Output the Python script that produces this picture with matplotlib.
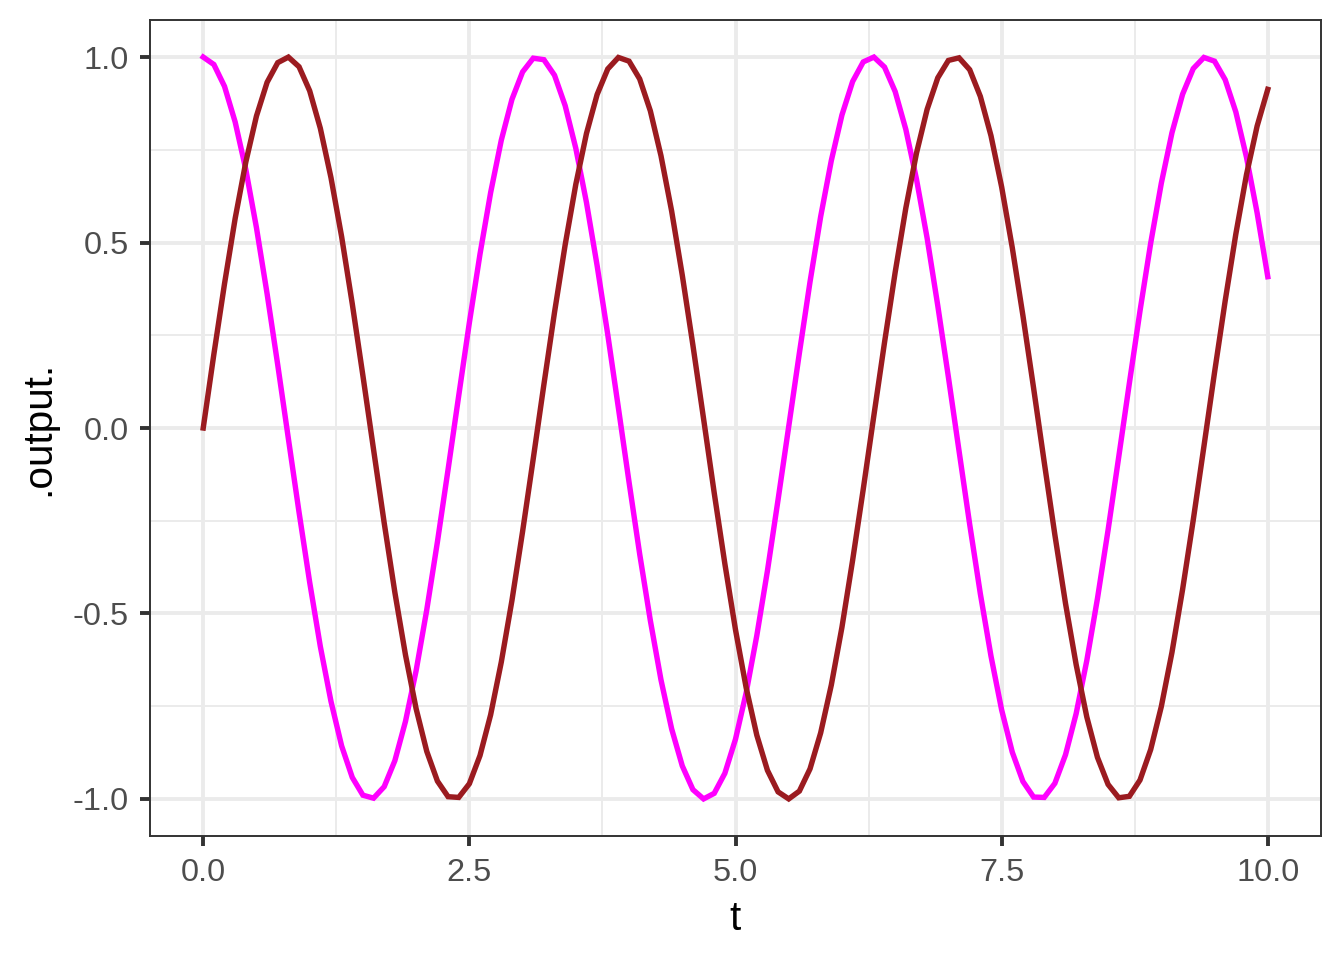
import matplotlib
matplotlib.use("Agg")
import matplotlib.pyplot as plt
from matplotlib.ticker import MultipleLocator

plt.rcParams['font.family'] = ['Liberation Sans', 'DejaVu Sans']

t = [0.0, 0.1, 0.2, 0.3, 0.4, 0.5, 0.6, 0.7, 0.8, 0.9,
     1.0, 1.1, 1.2, 1.3, 1.4, 1.5, 1.6, 1.7, 1.8, 1.9,
     2.0, 2.1, 2.2, 2.3, 2.4, 2.5, 2.6, 2.7, 2.8, 2.9,
     3.0, 3.1, 3.2, 3.3, 3.4, 3.5, 3.6, 3.7, 3.8, 3.9,
     4.0, 4.1, 4.2, 4.3, 4.4, 4.5, 4.6, 4.7, 4.8, 4.9,
     5.0, 5.1, 5.2, 5.3, 5.4, 5.5, 5.6, 5.7, 5.8, 5.9,
     6.0, 6.1, 6.2, 6.3, 6.4, 6.5, 6.6, 6.7, 6.8, 6.9,
     7.0, 7.1, 7.2, 7.3, 7.4, 7.5, 7.6, 7.7, 7.8, 7.9,
     8.0, 8.1, 8.2, 8.3, 8.4, 8.5, 8.6, 8.7, 8.8, 8.9,
     9.0, 9.1, 9.2, 9.3, 9.4, 9.5, 9.6, 9.7, 9.8, 9.9,
     10.0]

magenta_series = [1.000, 0.980, 0.921, 0.825, 0.697, 0.540, 0.362, 0.170, -0.029, -0.227,
                  -0.416, -0.589, -0.737, -0.857, -0.942, -0.990, -0.998, -0.967, -0.897, -0.791,
                  -0.654, -0.490, -0.307, -0.112, 0.087, 0.284, 0.469, 0.635, 0.776, 0.886,
                  0.960, 0.997, 0.993, 0.951, 0.869, 0.754, 0.608, 0.438, 0.252, 0.054,
                  -0.146, -0.340, -0.519, -0.679, -0.811, -0.911, -0.975, -1.000, -0.985, -0.931,
                  -0.839, -0.714, -0.560, -0.385, -0.193, 0.004, 0.202, 0.394, 0.570, 0.721,
                  0.844, 0.934, 0.987, 1.000, 0.973, 0.907, 0.805, 0.671, 0.512, 0.330,
                  0.137, -0.062, -0.260, -0.447, -0.615, -0.760, -0.874, -0.953, -0.995, -0.996,
                  -0.958, -0.881, -0.770, -0.627, -0.460, -0.275, -0.078, 0.121, 0.316, 0.498,
                  0.660, 0.796, 0.900, 0.969, 0.999, 0.989, 0.939, 0.852, 0.730, 0.580,
                  0.408]

darkred_series = [0.000, 0.199, 0.389, 0.565, 0.717, 0.841, 0.932, 0.985, 1.000, 0.974,
                  0.909, 0.808, 0.675, 0.516, 0.335, 0.141, -0.058, -0.256, -0.443, -0.612,
                  -0.757, -0.872, -0.952, -0.994, -0.996, -0.959, -0.883, -0.773, -0.631, -0.465,
                  -0.279, -0.083, 0.117, 0.312, 0.494, 0.657, 0.794, 0.899, 0.968, 0.999,
                  0.989, 0.941, 0.855, 0.734, 0.585, 0.412, 0.223, 0.025, -0.175, -0.366,
                  -0.544, -0.700, -0.828, -0.923, -0.981, -1.000, -0.979, -0.919, -0.822, -0.693,
                  -0.537, -0.357, -0.165, 0.034, 0.231, 0.420, 0.593, 0.741, 0.859, 0.944,
                  0.991, 0.998, 0.966, 0.894, 0.788, 0.650, 0.486, 0.303, 0.108, -0.092,
                  -0.288, -0.473, -0.638, -0.779, -0.888, -0.961, -0.997, -0.993, -0.949, -0.867,
                  -0.751, -0.605, -0.435, -0.248, -0.050, 0.150, 0.343, 0.523, 0.683, 0.814,
                  0.913]

x_ticks = [0.0, 2.5, 5.0, 7.5, 10.0]
x_tick_labels = ["0.0", "2.5", "5.0", "7.5", "10.0"]
y_ticks = [-1.0, -0.5, 0.0, 0.5, 1.0]
y_tick_labels = ["-1.0", "-0.5", "0.0", "0.5", "1.0"]

fig = plt.figure(figsize=(6.72, 4.8), dpi=200)
ax = fig.add_axes([150/1344, 1 - 836/960, (1321-150)/1344, (836-20)/960])

ax.plot(t, magenta_series, color="#FF00FF", lw=1.95, solid_joinstyle='miter', zorder=3)
ax.plot(t, darkred_series, color="#9B1B20", lw=1.95, solid_joinstyle='miter', zorder=4)

ax.set_xlim(-0.5, 10.5)
ax.set_ylim(-1.1, 1.1)
ax.set_xticks(x_ticks)
ax.set_xticklabels(x_tick_labels)
ax.set_yticks(y_ticks)
ax.set_yticklabels(y_tick_labels)
ax.xaxis.set_minor_locator(MultipleLocator(1.25))
ax.yaxis.set_minor_locator(MultipleLocator(0.25))

ax.grid(which='major', color='#EBEBEB', lw=1.4, zorder=0)
ax.grid(which='minor', color='#EBEBEB', lw=0.7, zorder=0)
ax.set_axisbelow(True)

for s in ax.spines.values():
    s.set_color('#333333')
    s.set_linewidth(0.7)

ax.tick_params(which='major', length=3.7, width=1.4, color='#333333',
               labelsize=11.7, labelcolor='#4D4D4D')
ax.tick_params(axis='x', which='major', pad=4.2)
ax.tick_params(axis='y', which='major', pad=3.9)
ax.tick_params(which='minor', length=0)

ax.set_xlabel("t", fontsize=14.6, color='black', labelpad=4.5)
ax.set_ylabel(".output.", fontsize=14.6, color='black', labelpad=5.5)

fig.savefig("out.png", dpi=200)
